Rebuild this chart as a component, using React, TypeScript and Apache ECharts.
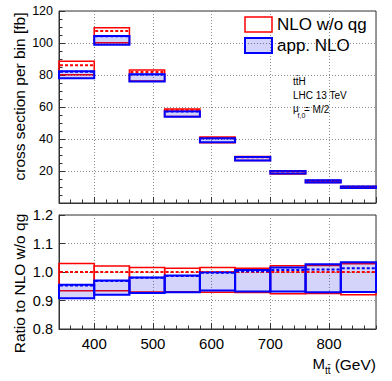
import React, { useEffect, useRef } from "react";
import * as echarts from "echarts";

const FONT = "'Liberation Sans', Arial, Helvetica, sans-serif";

// bin edges of M_tt (GeV)
const binEdges = [340, 400, 460, 520, 580, 640, 700, 760, 820, 880];

// upper panel: cross section per bin [fb]
const nloCentral = [86.1, 107.5, 81.9, 58.1, 40.6, 28.6, 19.7, 13.8, 10.0];
const nloUp = [88.6, 109.6, 83.1, 58.8, 41.3, 29.0, 20.1, 14.1, 10.3];
const nloDown = [80.2, 100.2, 76.2, 54.1, 37.7, 26.5, 18.2, 12.8, 9.2];
const appCentral = [82.0, 104.2, 80.3, 57.2, 40.4, 28.7, 19.8, 13.9, 10.1];
const appUp = [82.3, 104.4, 80.4, 57.4, 40.5, 28.8, 20.0, 14.2, 10.3];
const appDown = [77.9, 98.9, 75.9, 53.9, 38.0, 26.6, 18.4, 12.8, 9.3];

// lower panel: ratio to NLO w/o qg
const nloRatioCentral = [1.0, 1.0, 1.0, 1.0, 1.0, 1.0, 1.0, 1.0, 1.0];
const nloRatioUp = [1.03, 1.021, 1.016, 1.013, 1.016, 1.013, 1.022, 1.023, 1.029];
const nloRatioDown = [0.934, 0.934, 0.93, 0.931, 0.929, 0.928, 0.924, 0.925, 0.92];
const appRatioCentral = [0.953, 0.968, 0.98, 0.986, 0.997, 1.003, 1.007, 1.009, 1.013];
const appRatioUp = [0.955, 0.97, 0.981, 0.988, 0.999, 1.007, 1.016, 1.027, 1.034];
const appRatioDown = [0.908, 0.92, 0.926, 0.929, 0.935, 0.932, 0.932, 0.929, 0.93];

const topTicks = [0, 20, 40, 60, 80, 100, 120];
const ratioTicks = [0.8, 0.9, 1.0, 1.1, 1.2];

const RED = "#ff0000";
const BLUE = "#0000ff";
const BLUE_FILL = "rgba(0,0,230,0.17)";
const GRIDLINE = { color: "#8c8c8c", width: 1, type: [1, 2] as number[] };
const AXIS_COLOR = "#333";

function rows(down: number[], up: number[], central: number[]) {
  return central.map((c, i) => [binEdges[i], binEdges[i + 1], down[i], up[i], c]);
}

function boxRenderer(fill: string, stroke: string, lw: number) {
  return (_params: any, api: any) => {
    const x0 = api.value(0);
    const x1 = api.value(1);
    const lo = api.value(2);
    const hi = api.value(3);
    const c = api.value(4);
    const a = api.coord([x0, hi]);
    const b = api.coord([x1, lo]);
    const ca = api.coord([x0, c]);
    const cb = api.coord([x1, c]);
    return {
      type: "group",
      children: [
        {
          type: "rect",
          z2: 0,
          shape: { x: a[0], y: a[1], width: b[0] - a[0], height: b[1] - a[1] },
          style: { fill, stroke, lineWidth: lw },
        },
        {
          type: "line",
          z2: 10,
          shape: { x1: ca[0] + 1, y1: ca[1], x2: cb[0] - 1, y2: cb[1] },
          style: { stroke, lineWidth: 2, lineDash: [3, 2] },
        },
      ],
    };
  };
}

function majorX(gridIndex: number, labels: boolean) {
  return {
    type: "value",
    gridIndex,
    position: "bottom",
    min: binEdges[0],
    max: binEdges[binEdges.length - 1],
    splitNumber: 5,
    axisLine: { show: true, lineStyle: { color: AXIS_COLOR, width: 1 } },
    axisTick: { show: true, inside: true, length: 6, lineStyle: { color: AXIS_COLOR } },
    axisLabel: {
      show: labels,
      margin: 7,
      color: "#000",
      fontSize: 15,
      fontFamily: FONT,
      showMinLabel: false,
      showMaxLabel: false,
      formatter: (v: number) => (v % 100 === 0 ? String(v) : ""),
    },
    splitLine: { show: true, lineStyle: GRIDLINE },
  };
}

function minorX(gridIndex: number) {
  return {
    type: "value",
    gridIndex,
    position: "bottom",
    min: binEdges[0],
    max: binEdges[binEdges.length - 1],
    interval: 20,
    axisLine: { show: false },
    axisTick: { show: true, inside: true, length: 3.5, lineStyle: { color: AXIS_COLOR } },
    axisLabel: { show: false },
    splitLine: { show: false },
  };
}

export default function App() {
  const ref = useRef<HTMLDivElement>(null);

  useEffect(() => {
    if (!ref.current) return;
    const chart = echarts.init(ref.current, undefined, { renderer: "svg" });

    const option: any = {
      animation: false,
      backgroundColor: "#fff",
      textStyle: { fontFamily: FONT },
      grid: [
        { left: 59, right: 16, top: 11, bottom: 178, show: true, borderColor: AXIS_COLOR, borderWidth: 1, backgroundColor: "transparent" },
        { left: 59, right: 16, top: 215, bottom: 52, show: true, borderColor: AXIS_COLOR, borderWidth: 1, backgroundColor: "transparent" },
      ],
      legend: {
        orient: "vertical",
        left: 244,
        top: 16,
        padding: 0,
        itemWidth: 27,
        itemHeight: 15,
        itemGap: 4,
        icon: "rect",
        selectedMode: false,
        textStyle: { fontSize: 17, color: "#000", fontFamily: FONT },
        data: [
          { name: "NLO w/o qg", itemStyle: { color: "#fff", borderColor: RED, borderWidth: 1.5 } },
          { name: "app. NLO", itemStyle: { color: BLUE_FILL, borderColor: BLUE, borderWidth: 2 } },
        ],
      },
      xAxis: [majorX(0, false), minorX(0), majorX(1, true), minorX(1)],
      yAxis: [
        {
          type: "value",
          gridIndex: 0,
          min: topTicks[0],
          max: topTicks[topTicks.length - 1],
          interval: topTicks[1] - topTicks[0],
          axisLine: { show: true, lineStyle: { color: AXIS_COLOR } },
          axisTick: { show: true, inside: true, length: 6, lineStyle: { color: AXIS_COLOR } },
          minorTick: { show: true, splitNumber: 4, length: 3.5, lineStyle: { color: AXIS_COLOR } },
          axisLabel: {
            margin: 6,
            color: "#000",
            fontSize: 12.5,
            fontFamily: FONT,
            showMinLabel: false,
            formatter: (v: number) => (v === 0 ? "" : String(v)),
          },
          splitLine: { show: true, lineStyle: GRIDLINE },
        },
        {
          type: "value",
          gridIndex: 1,
          min: ratioTicks[0],
          max: ratioTicks[ratioTicks.length - 1],
          interval: 0.1,
          axisLine: { show: true, lineStyle: { color: AXIS_COLOR } },
          axisTick: { show: true, inside: true, length: 6, lineStyle: { color: AXIS_COLOR } },
          axisLabel: {
            margin: 6,
            color: "#000",
            fontSize: 14.5,
            fontFamily: FONT,
            formatter: (v: number) => v.toFixed(1),
          },
          splitLine: { show: true, lineStyle: GRIDLINE },
        },
      ],
      series: [
        {
          type: "custom",
          name: "NLO w/o qg",
          xAxisIndex: 0,
          yAxisIndex: 0,
          itemStyle: { color: "#fff", borderColor: RED },
          encode: { x: [0, 1], y: [2, 3, 4] },
          renderItem: boxRenderer("none", RED, 1.5),
          data: rows(nloDown, nloUp, nloCentral),
        },
        {
          type: "custom",
          name: "app. NLO",
          xAxisIndex: 0,
          yAxisIndex: 0,
          itemStyle: { color: BLUE_FILL, borderColor: BLUE },
          encode: { x: [0, 1], y: [2, 3, 4] },
          renderItem: boxRenderer(BLUE_FILL, BLUE, 2),
          data: rows(appDown, appUp, appCentral),
        },
        {
          type: "custom",
          name: "NLO w/o qg",
          xAxisIndex: 2,
          yAxisIndex: 1,
          itemStyle: { color: "#fff", borderColor: RED },
          encode: { x: [0, 1], y: [2, 3, 4] },
          renderItem: boxRenderer("none", RED, 1.5),
          data: rows(nloRatioDown, nloRatioUp, nloRatioCentral),
        },
        {
          type: "custom",
          name: "app. NLO",
          xAxisIndex: 2,
          yAxisIndex: 1,
          itemStyle: { color: BLUE_FILL, borderColor: BLUE },
          encode: { x: [0, 1], y: [2, 3, 4] },
          renderItem: boxRenderer(BLUE_FILL, BLUE, 2),
          data: rows(appRatioDown, appRatioUp, appRatioCentral),
        },
      ],
      graphic: [
        {
          type: "text",
          x: 19,
          y: 96.5,
          rotation: Math.PI / 2,
          style: { text: "cross section per bin [fb]", fill: "#000", font: `15.5px ${FONT}`, align: "center", verticalAlign: "middle", textAlign: "center", textVerticalAlign: "middle" },
        },
        {
          type: "text",
          x: 19,
          y: 283.5,
          rotation: Math.PI / 2,
          style: { text: "Ratio to NLO w/o qg", fill: "#000", font: `15.5px ${FONT}`, align: "center", verticalAlign: "middle", textAlign: "center", textVerticalAlign: "middle" },
        },
        {
          type: "text",
          x: 293,
          y: 81,
          style: { text: "tt\u0304H", fill: "#000", font: `10px ${FONT}`, align: "left", verticalAlign: "middle", textAlign: "left", textVerticalAlign: "middle" },
        },
        {
          type: "text",
          x: 293,
          y: 95,
          style: { text: "LHC 13 TeV", fill: "#000", font: `10px ${FONT}`, align: "left", verticalAlign: "middle", textAlign: "left", textVerticalAlign: "middle" },
        },
        {
          type: "text",
          x: 293,
          y: 108.5,
          style: { text: "\u03bc", fill: "#000", font: `10px ${FONT}`, align: "left", verticalAlign: "middle", textAlign: "left", textVerticalAlign: "middle" },
        },
        {
          type: "text",
          x: 297.5,
          y: 115,
          style: { text: "f,0", fill: "#000", font: `7px ${FONT}`, align: "left", verticalAlign: "middle", textAlign: "left", textVerticalAlign: "middle" },
        },
        {
          type: "text",
          x: 304,
          y: 109,
          style: { text: "= M/2", fill: "#000", font: `10px ${FONT}`, align: "left", verticalAlign: "middle", textAlign: "left", textVerticalAlign: "middle" },
        },
        {
          type: "text",
          x: 312.5,
          y: 363.5,
          style: { text: "M", fill: "#000", font: `15px ${FONT}`, align: "left", verticalAlign: "middle", textAlign: "left", textVerticalAlign: "middle" },
        },
        {
          type: "text",
          x: 325,
          y: 370,
          style: { text: "tt\u0304", fill: "#000", font: `10px ${FONT}`, align: "left", verticalAlign: "middle", textAlign: "left", textVerticalAlign: "middle" },
        },
        {
          type: "text",
          x: 376,
          y: 364,
          style: { text: "(GeV)", fill: "#000", font: `15.5px ${FONT}`, align: "right", verticalAlign: "middle", textAlign: "right", textVerticalAlign: "middle" },
        },
      ],
    };

    chart.setOption(option);
    return () => chart.dispose();
  }, []);

  return (
    <div
      ref={ref}
      style={{ position: "fixed", left: 0, top: 0, width: 392, height: 381, background: "#fff" }}
    />
  );
}
